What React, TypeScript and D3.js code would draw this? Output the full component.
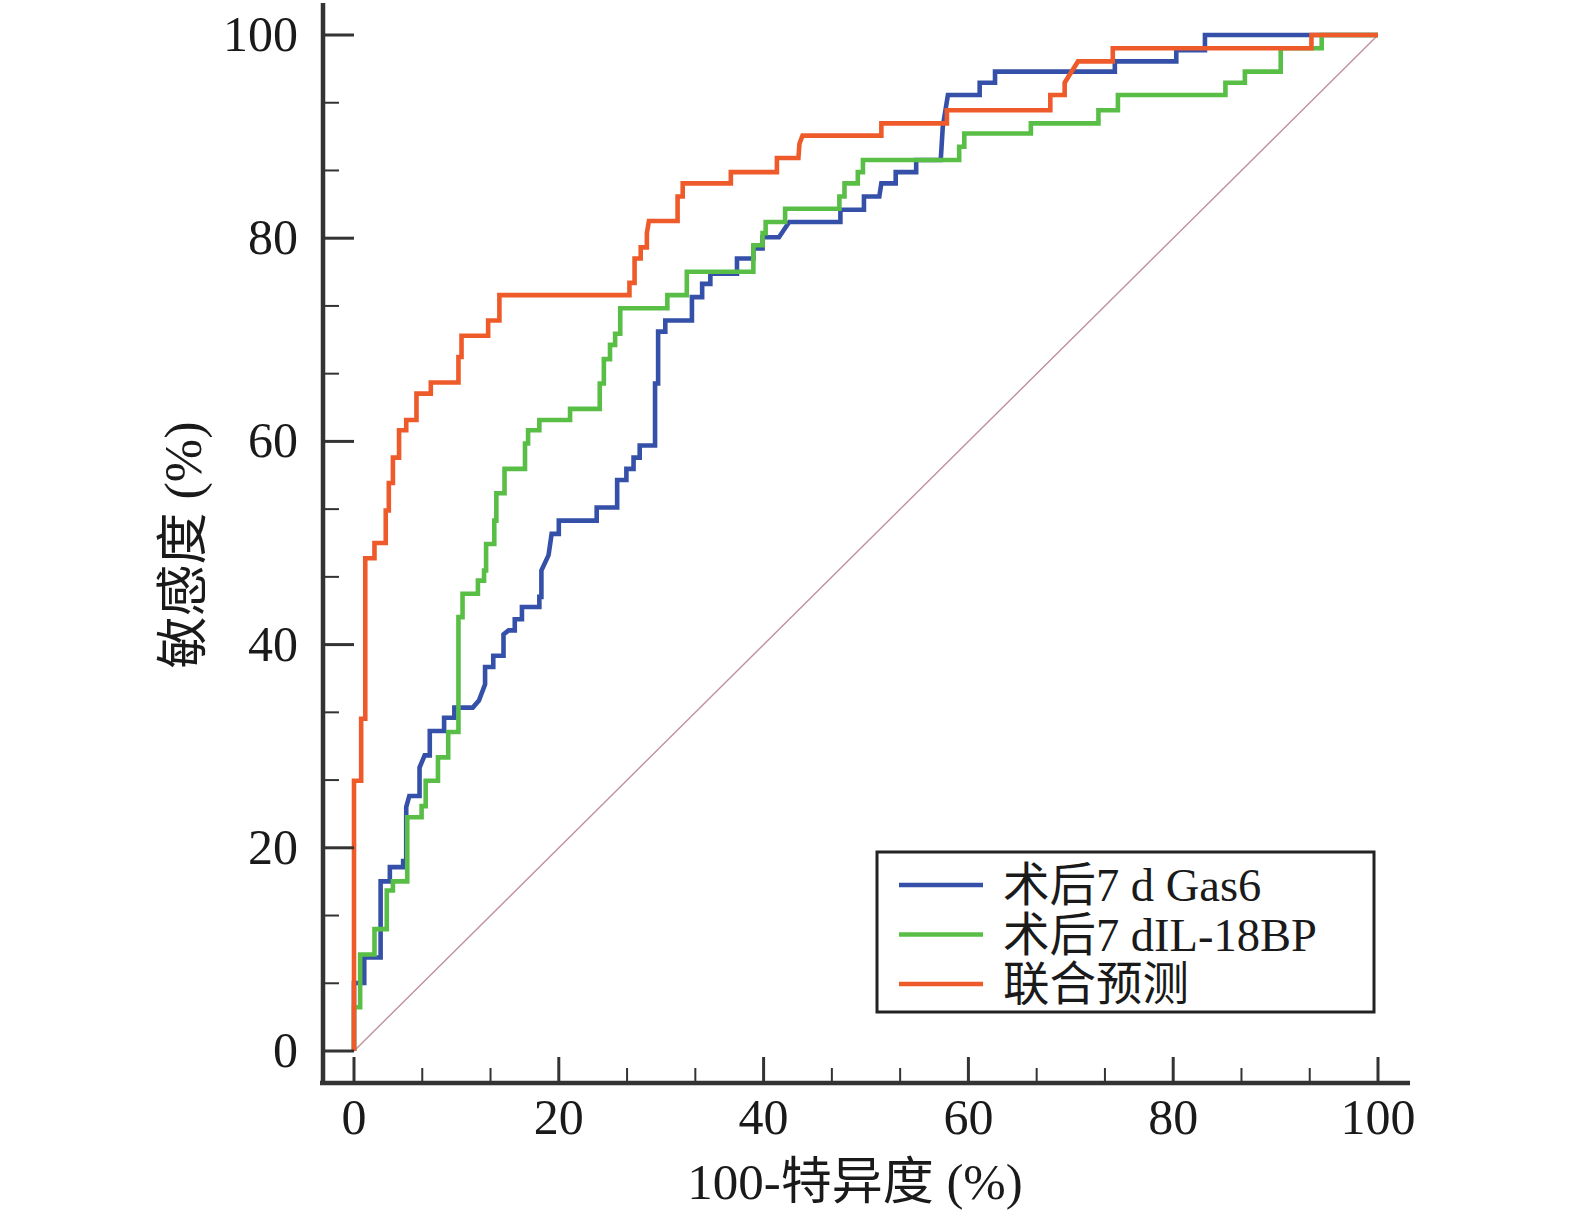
import React from "react";
import * as d3 from "d3";

// ROC curve points [100-specificity (%), sensitivity (%)]
const gas6: [number, number][] = [
  [0, 0], [0, 6.7], [1.0, 6.7], [1.0, 9.2], [2.6, 9.2], [2.6, 16.7], [3.5, 16.7], [3.5, 18.1],
  [4.8, 18.1], [4.8, 18.7], [5.1, 18.7], [5.1, 24.0], [5.4, 25.1], [6.4, 25.1], [6.4, 27.9],
  [6.9, 29.1], [7.4, 29.1], [7.4, 31.5], [8.8, 31.5], [8.8, 32.8], [9.8, 32.8], [9.8, 33.8],
  [11.6, 33.8], [12.2, 34.5], [12.8, 36.1], [12.8, 37.8], [13.6, 37.8], [13.6, 38.9], [14.6, 38.9],
  [14.6, 41.0], [15.1, 41.4], [15.7, 41.4], [15.7, 42.5], [16.4, 42.5], [16.4, 43.7], [18.1, 43.7],
  [18.1, 44.7], [18.3, 44.7], [18.3, 47.3], [19.0, 48.8], [19.3, 50.9], [20.0, 50.9], [20.0, 52.2],
  [23.7, 52.2], [23.7, 53.5], [25.7, 53.5], [25.7, 56.2], [26.6, 56.2], [26.6, 57.3], [27.3, 57.3],
  [27.3, 58.4], [27.9, 58.4], [27.9, 59.6], [29.4, 59.6], [29.4, 65.7], [29.7, 65.7], [29.7, 70.8],
  [30.4, 70.8], [30.4, 71.9], [33.0, 71.9], [33.0, 74.2], [34.0, 74.2], [34.0, 75.5], [34.8, 75.5],
  [34.8, 76.5], [37.4, 76.5], [37.4, 78.0], [39.0, 78.0], [39.0, 79.0], [39.9, 79.0], [39.9, 80.1],
  [41.5, 80.1], [42.5, 81.6], [47.5, 81.6], [47.5, 82.8], [49.8, 82.8], [49.8, 84.1], [51.3, 84.1],
  [51.5, 85.4], [52.9, 85.4], [52.9, 86.5], [54.9, 86.5], [54.9, 87.7], [57.3, 87.7], [57.5, 91.0],
  [58.0, 94.1], [61.1, 94.1], [61.1, 95.3], [62.6, 95.3], [62.6, 96.4], [74.3, 96.4], [74.3, 97.4],
  [80.3, 97.4], [80.3, 98.5], [83.1, 98.5], [83.1, 100], [100, 100],
];

const il18bp: [number, number][] = [
  [0, 0], [0, 4.3], [0.6, 4.3], [0.6, 9.5], [2.0, 9.5], [2.0, 12.0], [3.2, 12.0], [3.2, 15.8],
  [3.8, 15.8], [3.8, 16.7], [5.2, 16.7], [5.2, 23.0], [6.6, 23.0], [6.6, 24.1], [7.0, 24.1],
  [7.0, 26.6], [8.2, 26.6], [8.2, 28.9], [9.2, 28.9], [9.2, 31.4], [10.2, 31.4], [10.2, 42.7],
  [10.6, 42.7], [10.6, 45.0], [12.1, 45.0], [12.1, 46.3], [12.7, 46.3], [12.7, 47.3], [12.9, 47.3],
  [12.9, 49.9], [13.7, 49.9], [13.7, 52.2], [13.9, 52.2], [13.9, 54.9], [14.7, 54.9], [14.7, 57.3],
  [16.7, 57.3], [16.7, 59.8], [17.0, 59.8], [17.0, 61.1], [18.1, 61.1], [18.1, 62.1], [21.1, 62.1],
  [21.1, 63.2], [24.0, 63.2], [24.0, 65.7], [24.4, 65.7], [24.4, 68.1], [25.0, 68.1], [25.0, 69.5],
  [25.5, 69.5], [25.5, 70.6], [26.0, 70.6], [26.0, 73.1], [30.6, 73.1], [30.6, 74.4], [32.5, 74.4],
  [32.5, 76.7], [39.0, 76.7], [39.0, 79.3], [39.9, 79.3], [39.9, 80.5], [40.2, 80.5], [40.2, 81.6],
  [42.1, 81.6], [42.1, 82.9], [47.4, 82.9], [47.4, 84.1], [47.9, 84.1], [47.9, 85.4], [49.2, 85.4],
  [49.2, 86.5], [49.7, 86.5], [49.7, 87.7], [59.1, 87.7], [59.1, 89.0], [59.6, 89.0], [59.6, 90.3],
  [66.1, 90.3], [66.1, 91.3], [72.7, 91.3], [72.7, 92.6], [74.6, 92.6], [74.6, 94.1], [85.1, 94.1],
  [85.1, 95.3], [87.0, 95.3], [87.0, 96.4], [90.5, 96.4], [90.5, 98.7], [94.5, 98.7], [94.5, 100],
  [100, 100],
];

const combined: [number, number][] = [
  [0, 0], [0, 26.6], [0.7, 26.6], [0.7, 32.7], [1.1, 32.7], [1.1, 48.5], [2.0, 48.5], [2.0, 50.0],
  [3.1, 50.0], [3.1, 53.2], [3.4, 53.2], [3.4, 55.9], [3.8, 55.9], [3.8, 58.4], [4.4, 58.4],
  [4.4, 61.1], [5.1, 61.1], [5.1, 62.1], [6.1, 62.1], [6.1, 64.7], [7.5, 64.7], [7.5, 65.8],
  [10.2, 65.8], [10.2, 68.3], [10.5, 68.3], [10.5, 70.4], [13.1, 70.4], [13.1, 71.9], [14.2, 71.9],
  [14.2, 74.4], [26.9, 74.4], [26.9, 75.6], [27.4, 75.6], [27.4, 78.0], [28.0, 78.0], [28.0, 79.1],
  [28.6, 79.1], [28.6, 80.5], [28.8, 81.7], [31.6, 81.7], [31.6, 84.1], [32.1, 84.1], [32.1, 85.4],
  [36.8, 85.4], [36.8, 86.5], [41.3, 86.5], [41.3, 87.9], [43.4, 87.9], [43.5, 89.3], [43.8, 90.1],
  [51.5, 90.1], [51.5, 91.3], [57.9, 91.3], [57.9, 92.6], [68.0, 92.6], [68.0, 94.1], [69.4, 94.1],
  [69.4, 95.3], [70.7, 97.4], [74.1, 97.4], [74.1, 98.7], [93.5, 98.7], [93.5, 100], [100, 100],
];

const seriesNames = ["术后7 d Gas6", "术后7 dIL-18BP", "联合预测"];
const seriesColors = ["#3550a8", "#58be46", "#ef5a2a"];
const seriesData = [gas6, il18bp, combined];
const tickValues = [0, 20, 40, 60, 80, 100];

const SERIF = "'Liberation Serif', 'Times New Roman', 'Noto Sans CJK SC', serif";

export default function App() {
  const x = d3.scaleLinear().domain([0, 100]).range([354, 1378]);
  const y = d3.scaleLinear().domain([0, 100]).range([1051, 35]);
  const line = d3
    .line<[number, number]>()
    .x((d) => x(d[0]))
    .y((d) => y(d[1]));

  const minor = d3.range(0, 101, 20 / 3).filter((v) => Math.abs(v / 20 - Math.round(v / 20)) > 1e-6);
  const axisColor = "#333";
  const yAxisX = 323;
  const xAxisY = 1083;
  const legendRow = 49.5;
  const legendY0 = 884;

  return (
    <svg
      width={1575}
      height={1219}
      style={{ position: "absolute", left: 0, top: 0, background: "#fff" }}
    >
      {/* diagonal reference */}
      <line
        x1={x(0)}
        y1={y(0)}
        x2={x(100)}
        y2={y(100)}
        stroke="#c0909c"
        strokeWidth={1.4}
      />

      {/* curves */}
      {seriesData.map((d, i) => (
        <path
          key={i}
          d={line(d) || ""}
          fill="none"
          stroke={seriesColors[i]}
          strokeWidth={4.6}
          strokeLinejoin="miter"
        />
      ))}

      {/* Y axis */}
      <line x1={yAxisX} y1={3} x2={yAxisX} y2={xAxisY + 2} stroke={axisColor} strokeWidth={4.5} />
      {tickValues.map((v) => (
        <g key={"y" + v}>
          <line x1={yAxisX} x2={x(0)} y1={y(v)} y2={y(v)} stroke={axisColor} strokeWidth={3} />
          <text
            x={298}
            y={y(v) + 16}
            textAnchor="end"
            fontFamily={SERIF}
            fontSize={50}
            fill="#1a1a1a"
          >
            {v}
          </text>
        </g>
      ))}
      {minor.map((v) => (
        <line key={"ym" + v} x1={yAxisX} x2={339} y1={y(v)} y2={y(v)} stroke={axisColor} strokeWidth={2} />
      ))}

      {/* X axis */}
      <line x1={320} y1={xAxisY} x2={1410} y2={xAxisY} stroke={axisColor} strokeWidth={4.5} />
      {tickValues.map((v) => (
        <g key={"x" + v}>
          <line x1={x(v)} x2={x(v)} y1={xAxisY} y2={1057} stroke={axisColor} strokeWidth={3} />
          <text
            x={x(v)}
            y={1134}
            textAnchor="middle"
            fontFamily={SERIF}
            fontSize={50}
            fill="#1a1a1a"
          >
            {v}
          </text>
        </g>
      ))}
      {minor.map((v) => (
        <line key={"xm" + v} x1={x(v)} x2={x(v)} y1={xAxisY} y2={1068} stroke={axisColor} strokeWidth={2} />
      ))}

      {/* axis titles */}
      <text
        x={855}
        y={1199}
        textAnchor="middle"
        fontFamily={SERIF}
        fontSize={51}
        fill="#1a1a1a"
      >
        100-特异度 (%)
      </text>
      <text
        transform={`translate(201, 545) rotate(-90)`}
        textAnchor="middle"
        fontFamily={SERIF}
        fontSize={52}
        fill="#1a1a1a"
      >
        敏感度 (%)
      </text>

      {/* legend */}
      <rect x={877} y={852} width={497} height={160} fill="#fff" stroke="#222" strokeWidth={3} />
      {seriesNames.map((name, i) => (
        <g key={name}>
          <line
            x1={899}
            x2={983}
            y1={legendY0 + i * legendRow + 1}
            y2={legendY0 + i * legendRow + 1}
            stroke={seriesColors[i]}
            strokeWidth={4.5}
          />
          <text
            x={1003}
            y={legendY0 + i * legendRow + 17}
            fontFamily={SERIF}
            fontSize={46.5}
            fill="#1a1a1a"
          >
            {name}
          </text>
        </g>
      ))}
    </svg>
  );
}
